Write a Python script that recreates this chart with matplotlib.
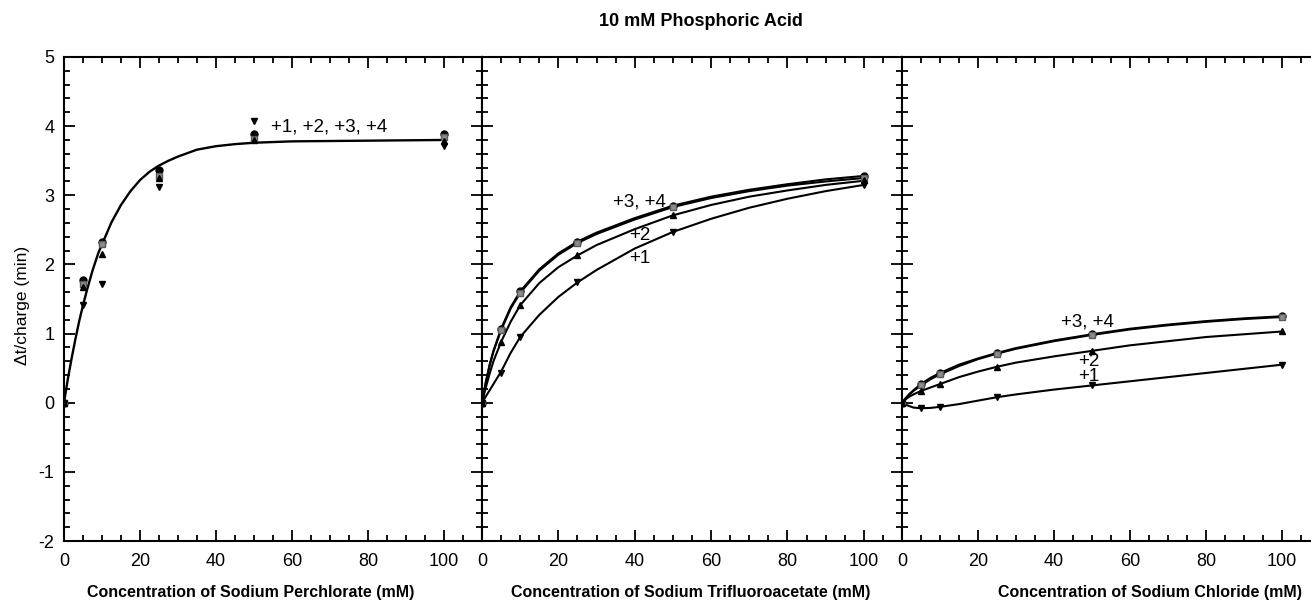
import numpy as np
import matplotlib
matplotlib.use("Agg")
import matplotlib.pyplot as plt
from matplotlib.ticker import MultipleLocator

plt.rcParams['font.family'] = ['Liberation Sans', 'DejaVu Sans']
plt.rcParams['axes.unicode_minus'] = False

# measured concentrations (mM)
conc = [0, 5, 10, 25, 50, 100]

# --- sodium perchlorate: points per charge state, one common fit ---
perc_p4 = [0, 1.77, 2.33, 3.36, 3.88, 3.88]
perc_p3 = [0, 1.72, 2.30, 3.28, 3.82, 3.85]
perc_p2 = [0, 1.68, 2.15, 3.25, 3.80, 3.78]
perc_p1 = [0, 1.42, 1.72, 3.12, 4.08, 3.72]
perc_fit_x = [0, 1, 2, 3, 4, 5, 6, 7.5, 9, 10, 12.5, 15, 17.5, 20, 22.5, 25, 27.5, 30,
              35, 40, 45, 50, 60, 80, 100]
perc_fit_y = [0, 0.34, 0.64, 0.92, 1.18, 1.41, 1.62, 1.91, 2.16, 2.29, 2.61, 2.86,
              3.06, 3.22, 3.34, 3.43, 3.50, 3.56, 3.66, 3.71, 3.74, 3.76, 3.78,
              3.79, 3.80]

# fit curves for the other two salts are read at these x values
fit_x = [0, 1, 2, 3, 5, 7.5, 10, 15, 20, 25, 30, 40, 50, 60, 70, 80, 90, 100]

# --- sodium trifluoroacetate ---
tfa_p4 = [0, 1.07, 1.61, 2.33, 2.85, 3.28]
tfa_p3 = [0, 1.05, 1.59, 2.31, 2.83, 3.25]
tfa_p2 = [0, 0.88, 1.41, 2.13, 2.71, 3.22]
tfa_p1 = [0, 0.43, 0.95, 1.74, 2.47, 3.15]
tfa_fit4 = [0, 0.30, 0.55, 0.75, 1.07, 1.38, 1.61, 1.93, 2.16, 2.33, 2.46, 2.67, 2.85,
            2.98, 3.08, 3.16, 3.23, 3.28]
tfa_fit3 = [0, 0.29, 0.54, 0.74, 1.05, 1.36, 1.59, 1.91, 2.14, 2.31, 2.44, 2.65, 2.83,
            2.96, 3.06, 3.14, 3.20, 3.25]
tfa_fit2 = [0, 0.22, 0.42, 0.60, 0.88, 1.17, 1.41, 1.73, 1.96, 2.13, 2.28, 2.51, 2.71,
            2.86, 2.98, 3.07, 3.15, 3.21]
tfa_fit1 = [0, 0.09, 0.18, 0.27, 0.45, 0.72, 0.95, 1.27, 1.53, 1.74, 1.92, 2.23, 2.47,
            2.66, 2.82, 2.95, 3.06, 3.15]

# --- sodium chloride ---
cl_p4 = [0, 0.27, 0.43, 0.72, 0.99, 1.25]
cl_p3 = [0, 0.25, 0.41, 0.71, 0.98, 1.24]
cl_p2 = [0, 0.17, 0.27, 0.52, 0.75, 1.03]
cl_p1 = [0, -0.08, -0.06, 0.08, 0.25, 0.55]
cl_fit4 = [0, 0.07, 0.13, 0.18, 0.27, 0.36, 0.43, 0.55, 0.64, 0.72, 0.79, 0.90, 0.99,
           1.07, 1.13, 1.18, 1.22, 1.25]
cl_fit3 = [0, 0.06, 0.12, 0.17, 0.25, 0.34, 0.41, 0.53, 0.63, 0.71, 0.78, 0.89, 0.98,
           1.06, 1.12, 1.17, 1.21, 1.24]
cl_fit2 = [0, 0.05, 0.09, 0.12, 0.17, 0.22, 0.27, 0.37, 0.45, 0.52, 0.58, 0.67, 0.75,
           0.83, 0.89, 0.95, 0.99, 1.03]
cl_fit1 = [0, -0.03, -0.05, -0.07, -0.08, -0.075, -0.06, -0.02, 0.03, 0.08, 0.12, 0.19,
           0.25, 0.31, 0.37, 0.43, 0.49, 0.55]

xlabels = ["Concentration of Sodium Perchlorate (mM)",
           "Concentration of Sodium Trifluoroacetate (mM)",
           "Concentration of Sodium Chloride (mM)"]

W, H = 1311, 602
fig = plt.figure(figsize=(W / 100, H / 100), dpi=100)

top, bot = 57, 541
lefts = [64, 482, 902]
widths = [418, 420, 418]
axes = []
for l, pw in zip(lefts, widths):
    ax = fig.add_axes([l / W, 1 - bot / H, pw / W, (bot - top) / H])
    axes.append(ax)

def style(ax, first, right=True):
    ax.set_xlim(0, 110)
    ax.set_ylim(-2, 5)
    ax.xaxis.set_minor_locator(MultipleLocator(5))
    ax.yaxis.set_major_locator(MultipleLocator(1))
    ax.yaxis.set_minor_locator(MultipleLocator(0.2))
    ax.set_xticks([0, 20, 40, 60, 80, 100])
    ax.tick_params(which='both', direction='in', top=True, right=right, width=1.3,
                   labelsize=13)
    ax.tick_params(axis='x', pad=9)
    ax.tick_params(axis='y', pad=7)
    ax.tick_params(which='major', length=8)
    ax.tick_params(which='minor', length=4.5)
    if not first:
        ax.tick_params(labelleft=False)
    for s in ax.spines.values():
        s.set_linewidth(1.5)
    if not right:
        ax.spines['right'].set_visible(False)

mk = dict(ms=5, ls='none', zorder=3)

def draw_points(ax, p4, p3, p2, p1):
    ax.plot(conc, p4, 'o', color='black', **mk)
    ax.plot(conc, p3, 's', color='0.55', mec='0.35', **mk)
    ax.plot(conc, p2, '^', color='black', **mk)
    ax.plot(conc, p1, 'v', color='black', **mk)

fs_ann = 13.5

# panel 1
ax = axes[0]
style(ax, True)
ax.plot(perc_fit_x, perc_fit_y, color='black', lw=1.7)
draw_points(ax, perc_p4, perc_p3, perc_p2, perc_p1)
ax.text(54.5, 3.99, "+1, +2, +3, +4", fontsize=fs_ann, va='center', ha='left')

# panel 2
ax = axes[1]
style(ax, False)
for fy in (tfa_fit4, tfa_fit3, tfa_fit2, tfa_fit1):
    ax.plot(fit_x, fy, color='black', lw=1.5)
draw_points(ax, tfa_p4, tfa_p3, tfa_p2, tfa_p1)
ax.text(41.3, 2.9, "+3, +4", fontsize=fs_ann, ha='center', va='center')
ax.text(41.3, 2.42, "+2", fontsize=fs_ann, ha='center', va='center')
ax.text(41.3, 2.09, "+1", fontsize=fs_ann, ha='center', va='center')

# panel 3
ax = axes[2]
style(ax, False, right=False)
for fy in (cl_fit4, cl_fit3, cl_fit2, cl_fit1):
    ax.plot(fit_x, fy, color='black', lw=1.5)
draw_points(ax, cl_p4, cl_p3, cl_p2, cl_p1)
ax.text(48.7, 1.17, "+3, +4", fontsize=fs_ann, ha='center', va='center')
ax.text(49.2, 0.60, "+2", fontsize=fs_ann, ha='center', va='center')
ax.text(49.2, 0.38, "+1", fontsize=fs_ann, ha='center', va='center')

for cx, lab in zip([251, 691, 1150], xlabels):
    fig.text(cx / W, 1 - 593 / H, lab, fontsize=11.5, fontweight='bold',
             ha='center', va='center')

fig.text(22 / W, 1 - 305 / H, "Δt/charge (min)", fontsize=12.5, rotation=90,
         ha='center', va='center')

fig.text(701 / W, 1 - 22 / H, "10 mM Phosphoric Acid", fontsize=13,
         fontweight='bold', ha='center', va='center')

fig.savefig("out.png", dpi=100)
